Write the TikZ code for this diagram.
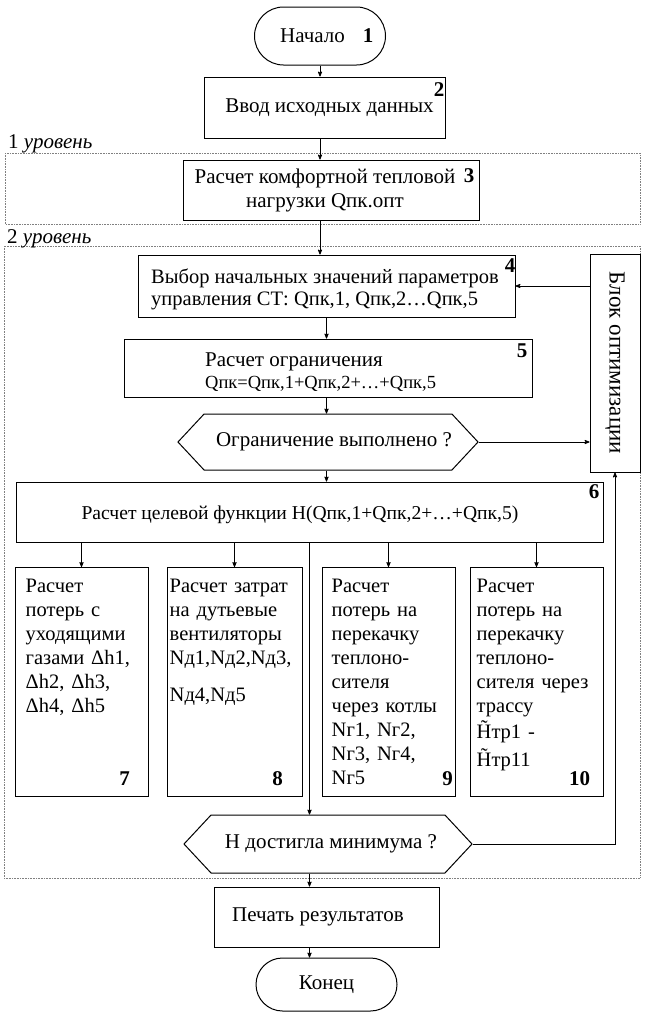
\documentclass[tikz,border=0pt]{standalone}
\usepackage{fontspec}
\setmainfont{Liberation Serif}
\usetikzlibrary{arrows,shapes.misc,shapes.symbols}

\begin{document}
\begin{tikzpicture}[
    x=1pt, y=-1pt,
    every node/.style={color=black, font=\fontsize{21}{24}\selectfont},
    block/.style={draw, line width=1pt, inner sep=0pt},
    term/.style={draw, line width=1pt, rounded rectangle, inner sep=0pt},
    cond/.style={draw, line width=1pt, signal, signal to=west and east,
    signal pointer angle=94, inner sep=0pt, minimum width=288pt},
    num/.style={font=\fontsize{21}{24}\selectfont\bfseries, inner sep=0pt},
    txt/.style={align=left, inner sep=0pt},
    coltxt/.style={align=left, inner sep=0pt, anchor=north west,
    font=\fontsize{20.5}{24}\selectfont},
    flow/.style={line width=0.8pt, ->, >=stealth'},
    level/.style={densely dotted, line width=0.6pt, gray}
    ]
    \useasboundingbox (0,0) rectangle (646,1012);

    % levels
    \draw[level] (5,153) rectangle (640,224);
    \draw[level] (4,246) rectangle (640,878);
    \node[anchor=base west, inner sep=0pt] (lev1) at (8,148) {1 \textit{уровень}};
    \node[anchor=base west, inner sep=0pt] (lev2) at (7,243) {2 \textit{уровень}};

    % top part
    \node[term, minimum width=131pt, minimum height=58pt] (start) at (320,36) {};
    \node[inner sep=0pt] (t1) at (312.5,36) {Начало};
    \node[num] (n1) at (368,36) {1};
    \node[block, minimum width=241pt, minimum height=61pt] (input) at (324.5,107.5) {\hspace{10pt}Ввод исходных данных};
    \node[num] (n2) at (439,90) {2};
    \node[block, minimum width=296pt, minimum height=60pt] (calc) at (331,190) {};
    \node[inner sep=0pt, align=center] (t3) at (325,190)
        {Расчет комфортной тепловой\\нагрузки Qпк.опт};
    \node[num] (n3) at (469,176) {3};

    % optimisation loop
    \node[block, minimum width=377pt, minimum height=62pt] (init) at (326.5,286) {};
    \node[txt, anchor=west, font=\fontsize{20.5}{22}\selectfont] (t4) at (151,289)
        {Выбор начальных значений параметров\\управления СТ: Qпк,1, Qпк,2…Qпк,5};
    \node[num] (n4) at (510,266) {4};
    \node[block, minimum width=408pt, minimum height=58pt] (limit) at (328,368) {};
    \node[txt, anchor=west] (t5) at (205,372)
        {Расчет ограничения\\[-2pt]{\fontsize{18.5}{22}\selectfont Qпк=Qпк,1+Qпк,2+…+Qпк,5}};
    \node[num] (n5) at (522,351) {5};
    \node[cond, minimum height=56pt] (check) at (328,442) {\hspace{12pt}Ограничение выполнено ?};
    \node[block, minimum width=50pt, minimum height=218pt] (opt) at (615,363) {};
    \node[rotate=-90, inner sep=0pt, font=\fontsize{23}{24}\selectfont] (optt) at (opt) {Блок оптимизации};
    \node[block, minimum width=587pt, minimum height=60pt] (goal) at (309.5,512) {};
    \node[inner sep=0pt, font=\fontsize{19.6}{24}\selectfont] (t6) at (300,515)
        {Расчет целевой функции H(Qпк,1+Qпк,2+…+Qпк,5)};
    \node[num] (n6) at (594,492) {6};

    % four columns
    \node[block, minimum width=133pt, minimum height=229pt] (b7) at (81.5,682) {};
    \node[coltxt, text width=115pt] (t7) at ([shift={(11,12)}]b7.north west)
        {Расчет\\потерь с\\уходящими\\газами Δh1,\\Δh2, Δh3,\\Δh4, Δh5};
    \node[num] (n7) at ([shift={(-24,-18)}]b7.south east) {7};
    \node[block, minimum width=135pt, minimum height=229pt] (b8) at (234.5,682) {};
    \node[coltxt, text width=130pt] (t8) at ([shift={(3,12)}]b8.north west)
        {Расчет затрат\\\makebox[127pt][s]{на дутьевые}\\вентиляторы\\Nд1,Nд2,Nд3,\\[13pt]Nд4,Nд5};
    \node[num] (n8) at ([shift={(-25,-18)}]b8.south east) {8};
    \node[block, minimum width=133pt, minimum height=229pt] (b9) at (388.5,682) {};
    \node[coltxt, text width=118pt] (t9) at ([shift={(10,12)}]b9.north west)
        {Расчет\\\makebox[106pt][s]{потерь на}\\перекачку\\теплоно-\\сителя\\через котлы\\Nг1, Nг2,\\Nг3, Nг4,\\Nг5};
    \node[num] (n9) at ([shift={(-8,-18)}]b9.south east) {9};
    \node[block, minimum width=133pt, minimum height=229pt] (b10) at (536.5,682) {};
    \node[coltxt, text width=124pt] (t10) at ([shift={(7,12)}]b10.north west)
        {Расчет\\\makebox[111pt][s]{потерь на}\\перекачку\\теплоно-\\сителя через\\трассу\\[2pt]\~{H}тр1 -\\[4pt]\~{H}тр11};
    \node[num] (n10) at ([shift={(-24,-18)}]b10.south east) {10};

    % bottom part
    \node[cond, minimum height=58pt] (minchk) at (328,844) {\hspace{6pt}H достигла минимума ?};
    \node[block, minimum width=225pt, minimum height=60pt] (print) at (326.5,917) {};
    \node[inner sep=0pt] (t11) at (318,917) {Печать результатов};
    \node[term, minimum width=141pt, minimum height=53pt] (stop) at (326.5,984.5) {Конец};

    % connectors
    \draw[flow] (start.south) -- (start.south |- input.north);
    \draw[flow] (start.south |- input.south) -- (start.south |- calc.north);
    \draw[flow] (start.south |- calc.south) -- (start.south |- init.north);
    \draw[flow] (init.south) -- (init.south |- limit.north);
    \draw[flow] (init.south |- limit.south) -- (init.south |- check.north);
    \draw[flow] (init.south |- check.south) -- (init.south |- goal.north);
    \draw[flow] (opt.west |- init.east) -- (init.east);
    \draw[flow] (check.east) -- (check.east -| opt.west);
    \foreach \b in {b7,b8,b9,b10}
        \draw[flow] (\b.north |- goal.south) -- (\b.north);
    \draw[flow] (goal.south) -- (goal.south |- minchk.north);
    \draw[flow] (minchk.east) -| (opt.south);
    \draw[flow] (goal.south |- minchk.south) -- (goal.south |- print.north);
    \draw[flow] (goal.south |- print.south) -- (goal.south |- stop.north);

\end{tikzpicture}
\end{document}
